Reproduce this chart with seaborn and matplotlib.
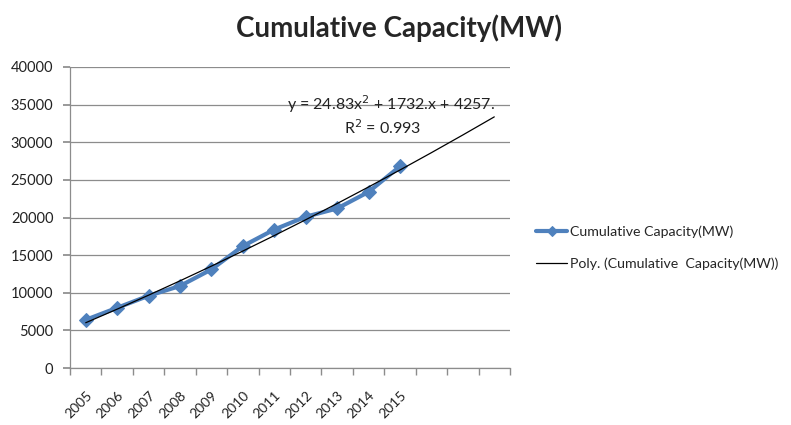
import numpy as np
import pandas as pd
import matplotlib
matplotlib.use("Agg")
import matplotlib.pyplot as plt
import matplotlib.transforms as mtransforms
import seaborn as sns

# Data
years = ['2005', '2006', '2007', '2008', '2009', '2010', '2011', '2012', '2013', '2014', '2015']
capacity = [6400, 8000, 9600, 10900, 13100, 16200, 18400, 20100, 21200, 23400, 26800]
# Excel trendline coefficients shown on the chart (x = 1, 2, ...), forecast 3 periods ahead
trend_coef = [24.83, 1732, 4257]
forecast_periods = 3

sns.set_theme(style="white")
plt.rcParams['font.family'] = ['Lato', 'DejaVu Sans']

df = pd.DataFrame({'idx': np.arange(len(years)), 'capacity': capacity})
n_cat = len(years) + forecast_periods

fig = plt.figure(figsize=(7.91, 4.25), dpi=100)
ax = fig.add_axes([70 / 791, 57 / 425, 440 / 791, 301 / 425])

ax.yaxis.grid(True, color='#8c8c8c', linewidth=0.9)
ax.set_axisbelow(True)

sns.lineplot(data=df, x='idx', y='capacity', ax=ax, color='#4F81BD', linewidth=3,
             marker='D', markersize=7, markeredgecolor='#4F81BD',
             label='Cumulative Capacity(MW)')

# polynomial trendline
tx = np.arange(1, n_cat + 1)
ty = np.polyval(trend_coef, tx)
ax.plot(tx - 1, ty, color='black', linewidth=0.9, label='Poly. (Cumulative  Capacity(MW))')

ax.set_xlim(-0.5, n_cat - 0.5)
ax.set_ylim(0, 40000)
ax.set_yticks(np.arange(0, 40001, 5000))
ax.set_xticks(np.arange(n_cat))
ax.set_xticklabels(years + [''] * forecast_periods, rotation=45, ha='right',
                   rotation_mode='anchor')
shift = mtransforms.ScaledTranslation(4 / 100, 0, fig.dpi_scale_trans)
for lbl in ax.get_xticklabels():
    lbl.set_transform(lbl.get_transform() + shift)
ax.set_xticks(np.arange(-0.5, n_cat), minor=True)
ax.tick_params(axis='x', which='major', length=0, labelsize=10, pad=15, colors='#222222')
ax.tick_params(axis='x', which='minor', length=5, color='#8c8c8c', direction='out', bottom=True)
ax.tick_params(axis='y', length=5, color='#8c8c8c', direction='out', left=True,
               labelsize=10.5, colors='#222222', pad=7)
ax.set_xlabel('')
ax.set_ylabel('')

for s in ['top', 'right']:
    ax.spines[s].set_visible(False)
for s in ['left', 'bottom']:
    ax.spines[s].set_color('#8c8c8c')
    ax.spines[s].set_linewidth(0.9)

ax.text(0.494, 0.875, 'y = 24.83x$^2$ + 1732.x + 4257.', transform=ax.transAxes,
        fontsize=11.5, ha='left', va='center', color='#222222')
ax.text(0.711, 0.797, 'R$^2$ = 0.993', transform=ax.transAxes,
        fontsize=11.5, ha='center', va='center', color='#222222')

fig.suptitle('Cumulative Capacity(MW)', x=0.505, y=0.965, fontsize=20, fontweight='bold')

leg = ax.legend(loc='center left', bbox_to_anchor=(1.03, 0.40), frameon=False,
                fontsize=10.2, handlelength=2.2, labelspacing=1.4, handletextpad=0.2,
                markerscale=0.8)

fig.savefig('out.png', dpi=100)
